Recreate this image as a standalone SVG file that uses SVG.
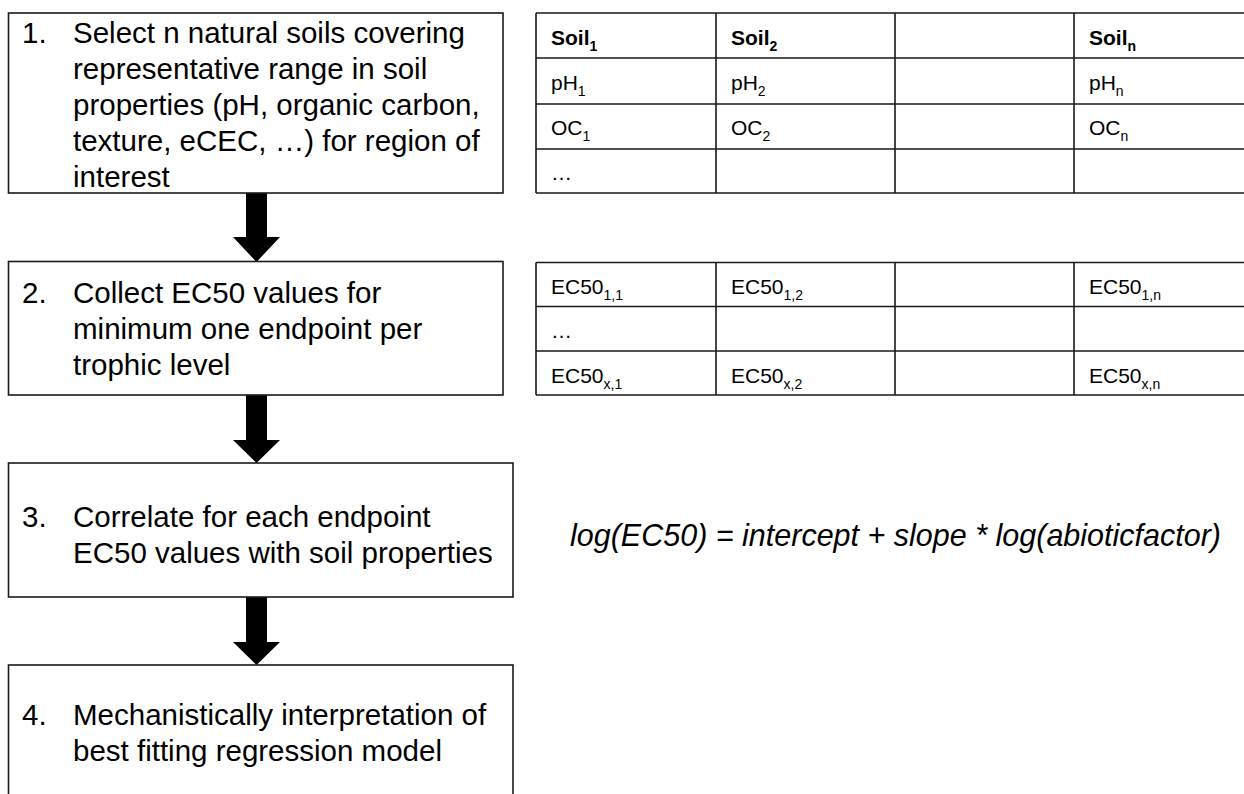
<svg xmlns="http://www.w3.org/2000/svg" width="1244" height="794" viewBox="0 0 1244 794">
<style>
.box{fill:#fff;stroke:#1a1a1a;stroke-width:1.6}
.t{font-family:"Liberation Sans",Arial,sans-serif;font-size:29.5px;fill:#000}
.c{font-family:"Liberation Sans",Arial,sans-serif;font-size:21px;fill:#000}
.b{font-weight:bold}
.s{font-size:14px}
.grid{fill:none;stroke:#1a1a1a;stroke-width:1.6}
.arr{fill:#000;stroke:none}
.f{font-family:"Liberation Sans",Arial,sans-serif;font-size:30.5px;font-style:italic;fill:#000}
</style>
<rect width="1244" height="794" fill="#fff"/>
<g id="connectors">
<path class="arr" d="M246,193 H267 V237 H280 L256.5,262 L233,237 H246 Z"/>
<path class="arr" d="M246,395 H267 V440 H280 L256.5,463 L233,440 H246 Z"/>
<path class="arr" d="M246,597 H267 V642 H280 L256.5,665 L233,642 H246 Z"/>
</g>
<g id="step1">
<rect class="box" x="8.5" y="13" width="494.5" height="180"/>
<text class="t" x="22" y="43">1.</text>
<text class="t" x="73" y="43">Select n natural soils covering</text>
<text class="t" x="73" y="79">representative range in soil</text>
<text class="t" x="73" y="115">properties (pH, organic carbon,</text>
<text class="t" x="73" y="151">texture, eCEC, …) for region of</text>
<text class="t" x="73" y="187">interest</text>
</g>
<g id="step2">
<rect class="box" x="8.5" y="261.5" width="494.5" height="133.5"/>
<text class="t" x="22" y="303">2.</text>
<text class="t" x="73" y="303">Collect EC50 values for</text>
<text class="t" x="73" y="339">minimum one endpoint per</text>
<text class="t" x="73" y="375">trophic level</text>
</g>
<g id="step3">
<rect class="box" x="8.5" y="463" width="504.5" height="134"/>
<text class="t" x="22" y="527">3.</text>
<text class="t" x="73" y="527">Correlate for each endpoint</text>
<text class="t" x="73" y="563">EC50 values with soil properties</text>
</g>
<g id="step4">
<rect class="box" x="8.5" y="665" width="504.5" height="140"/>
<text class="t" x="22" y="725">4.</text>
<text class="t" x="73" y="725">Mechanistically interpretation of</text>
<text class="t" x="73" y="761">best fitting regression model</text>
</g>
<g id="soil-table">
<path class="grid" d="M536,13 H1253 M536,58 H1253 M536,104 H1253 M536,149 H1253 M536,193 H1253 M536,13 V193 M716,13 V193 M895,13 V193 M1074,13 V193 M1253,13 V193"/>
<text class="c b" x="551" y="45">Soil<tspan class="s" dy="6">1</tspan></text>
<text class="c b" x="731" y="45">Soil<tspan class="s" dy="6">2</tspan></text>
<text class="c b" x="1089" y="45">Soil<tspan class="s" dy="6">n</tspan></text>
<text class="c" x="551" y="90">pH<tspan class="s" dy="6">1</tspan></text>
<text class="c" x="731" y="90">pH<tspan class="s" dy="6">2</tspan></text>
<text class="c" x="1089" y="90">pH<tspan class="s" dy="6">n</tspan></text>
<text class="c" x="551" y="135">OC<tspan class="s" dy="6">1</tspan></text>
<text class="c" x="731" y="135">OC<tspan class="s" dy="6">2</tspan></text>
<text class="c" x="1089" y="135">OC<tspan class="s" dy="6">n</tspan></text>
<text class="c" x="551" y="180">…</text>
</g>
<g id="ec50-table">
<path class="grid" d="M536,262.5 H1253 M536,306.5 H1253 M536,351 H1253 M536,395 H1253 M536,262.5 V395 M716,262.5 V395 M895,262.5 V395 M1074,262.5 V395 M1253,262.5 V395"/>
<text class="c" x="551" y="294">EC50<tspan class="s" dy="6">1,1</tspan></text>
<text class="c" x="731" y="294">EC50<tspan class="s" dy="6">1,2</tspan></text>
<text class="c" x="1089" y="294">EC50<tspan class="s" dy="6">1,n</tspan></text>
<text class="c" x="551" y="338">…</text>
<text class="c" x="551" y="383">EC50<tspan class="s" dy="6">x,1</tspan></text>
<text class="c" x="731" y="383">EC50<tspan class="s" dy="6">x,2</tspan></text>
<text class="c" x="1089" y="383">EC50<tspan class="s" dy="6">x,n</tspan></text>
</g>
<g id="formula">
<text class="f" x="570" y="546">log(EC50) = intercept + slope * log(abioticfactor)</text>
</g>
</svg>
